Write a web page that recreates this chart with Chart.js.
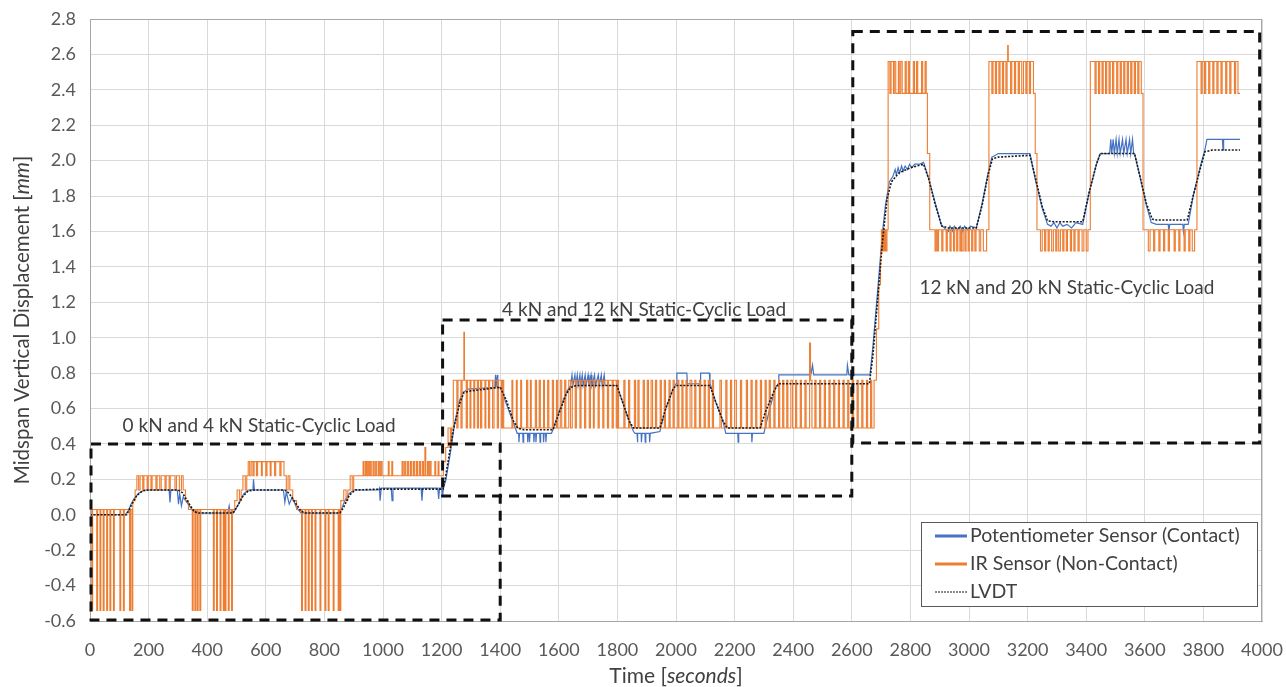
<!DOCTYPE html>
<html>
<head>
<meta charset="utf-8">
<script src="https://cdn.jsdelivr.net/npm/chart.js@4.4.1/dist/chart.umd.min.js"></script>
<style>
  html, body { margin: 0; padding: 0; background: #fff; }
  #wrap { width: 1286px; height: 687px; }
</style>
</head>
<body>
<div id="wrap"><canvas id="chart" width="1286" height="687"></canvas></div>
<script>
// axis ranges (seconds / mm)
const timeMin = 0, timeMax = 4000, timeStep = 200;
const dispMin = -0.6, dispMax = 2.8, dispStep = 0.2;

const seriesNames = ["Potentiometer Sensor (Contact)", "IR Sensor (Non-Contact)", "LVDT"];

// LVDT reference readings [time, displacement]
const lvdt = [
  [0,0.0],[125,0.0],[140,0.05],[160,0.11],[180,0.135],[200,0.14],[300,0.14],[315,0.125],[335,0.07],[355,0.02],[370,0.01],
  [488,0.01],[500,0.04],[520,0.10],[540,0.135],[560,0.14],[665,0.14],[680,0.12],[700,0.07],[720,0.02],[735,0.01],
  [853,0.01],[865,0.04],[885,0.11],[905,0.14],[1000,0.145],[1205,0.145],[1212,0.2],[1240,0.48],[1262,0.63],[1276,0.69],
  [1300,0.70],[1400,0.72],[1420,0.65],[1445,0.53],[1460,0.49],[1480,0.48],[1580,0.48],[1600,0.57],[1625,0.68],[1640,0.72],
  [1660,0.73],[1798,0.73],[1815,0.65],[1840,0.53],[1855,0.49],[1945,0.49],[1965,0.6],[1990,0.71],[2000,0.73],[2116,0.73],
  [2135,0.64],[2160,0.53],[2175,0.49],[2287,0.49],[2305,0.58],[2335,0.70],[2350,0.74],[2660,0.74],[2672,0.9],[2690,1.25],
  [2705,1.55],[2720,1.78],[2735,1.88],[2760,1.93],[2800,1.96],[2845,1.98],[2862,1.9],[2885,1.75],[2907,1.63],[2930,1.62],
  [3025,1.62],[3045,1.75],[3065,1.92],[3080,2.01],[3100,2.02],[3208,2.03],[3230,1.88],[3250,1.74],[3268,1.66],[3290,1.655],
  [3388,1.655],[3410,1.82],[3435,1.98],[3448,2.04],[3565,2.04],[3585,1.9],[3605,1.76],[3625,1.67],[3640,1.665],[3745,1.665],
  [3765,1.8],[3790,1.96],[3805,2.05],[3830,2.06],[3925,2.06]
];

// potentiometer readings [time, displacement]
const potentiometer = [
  [0,0.0],[120,0.0],[130,0.02],[140,0.06],[150,0.09],[165,0.12],[185,0.14],[270,0.14],[273,0.07],[276,0.14],[298,0.14],
  [302,0.06],[306,0.12],[312,0.05],[318,0.1],[335,0.06],[352,0.02],[365,0.01],[470,0.01],[475,0.05],[478,0.01],[490,0.01],
  [500,0.04],[510,0.07],[525,0.12],[540,0.14],[556,0.14],[558,0.2],[561,0.14],[660,0.14],[665,0.07],[670,0.13],[680,0.06],
  [690,0.1],[705,0.04],[720,0.01],[850,0.01],[860,0.04],[870,0.08],[885,0.12],[900,0.14],[985,0.14],[988,0.15],[990,0.08],
  [994,0.15],[1028,0.15],[1031,0.08],[1034,0.15],[1130,0.15],[1133,0.08],[1136,0.15],[1187,0.15],[1190,0.09],[1193,0.15],
  [1200,0.15],[1203,0.10],[1206,0.15],[1215,0.2],[1230,0.35],[1245,0.52],[1260,0.64],[1272,0.69],[1290,0.71],[1382,0.72],
  [1384,0.79],[1386,0.72],[1390,0.79],[1392,0.72],[1402,0.72],[1420,0.63],[1445,0.52],[1458,0.46],[1463,0.46],[1464,0.41],
  [1466,0.46],[1477,0.46],[1478,0.41],[1480,0.46],[1493,0.46],[1494,0.41],[1496,0.46],[1499,0.46],[1500,0.41],[1502,0.46],
  [1514,0.46],[1515,0.41],[1517,0.46],[1521,0.46],[1522,0.41],[1524,0.46],[1535,0.46],[1536,0.41],[1538,0.46],[1547,0.46],
  [1548,0.41],[1550,0.46],[1555,0.46],[1556,0.41],[1558,0.46],[1575,0.46],[1580,0.48],[1600,0.58],[1625,0.69],[1640,0.73],
  [1645,0.79],[1648,0.73],[1655,0.79],[1658,0.73],[1663,0.79],[1666,0.73],[1672,0.79],[1675,0.73],[1680,0.79],[1683,0.73],
  [1690,0.79],[1693,0.73],[1700,0.79],[1703,0.73],[1710,0.79],[1713,0.73],[1722,0.79],[1725,0.73],[1735,0.79],[1738,0.73],
  [1745,0.79],[1748,0.73],[1755,0.79],[1758,0.73],[1798,0.73],[1815,0.65],[1840,0.53],[1855,0.47],[1860,0.46],[1867,0.46],
  [1868,0.41],[1870,0.46],[1881,0.46],[1882,0.41],[1884,0.46],[1894,0.46],[1895,0.41],[1897,0.46],[1909,0.46],[1910,0.41],
  [1912,0.46],[1945,0.47],[1965,0.6],[1990,0.71],[2000,0.74],[2003,0.80],[2037,0.80],[2039,0.74],[2082,0.74],[2084,0.80],
  [2114,0.80],[2116,0.74],[2135,0.64],[2160,0.53],[2170,0.46],[2211,0.46],[2212,0.41],[2214,0.46],[2258,0.46],[2259,0.41],
  [2261,0.46],[2300,0.46],[2304,0.49],[2320,0.6],[2340,0.72],[2349,0.74],[2351,0.79],[2454,0.79],[2456,0.845],[2460,0.79],
  [2466,0.845],[2470,0.79],[2583,0.79],[2585,0.845],[2590,0.79],[2662,0.79],[2672,0.95],[2690,1.3],[2705,1.6],[2715,1.75],
  [2728,1.88],[2740,1.91],[2748,1.95],[2752,1.92],[2758,1.96],[2763,1.93],[2770,1.97],[2775,1.94],[2782,1.97],[2790,1.95],
  [2797,1.98],[2805,1.96],[2815,1.98],[2830,1.98],[2845,1.99],[2862,1.9],[2885,1.76],[2905,1.64],[2915,1.62],[2930,1.6],
  [2935,1.63],[2945,1.6],[2950,1.63],[2960,1.61],[2970,1.63],[2978,1.6],[2985,1.63],[2995,1.61],[3005,1.63],[3025,1.62],
  [3045,1.76],[3065,1.93],[3078,2.02],[3090,2.03],[3100,2.04],[3208,2.04],[3228,1.88],[3250,1.73],[3268,1.64],[3280,1.63],
  [3290,1.65],[3300,1.62],[3310,1.65],[3320,1.63],[3335,1.64],[3350,1.62],[3365,1.65],[3388,1.64],[3410,1.82],[3435,1.98],
  [3448,2.04],[3480,2.04],[3484,2.12],[3487,2.04],[3492,2.12],[3496,2.04],[3502,2.12],[3506,2.04],[3512,2.12],[3516,2.04],
  [3524,2.12],[3528,2.04],[3536,2.12],[3540,2.04],[3548,2.12],[3552,2.04],[3558,2.12],[3562,2.04],[3565,2.04],[3585,1.9],
  [3605,1.75],[3622,1.65],[3640,1.64],[3680,1.64],[3682,1.6],[3685,1.64],[3730,1.64],[3732,1.6],[3735,1.64],[3748,1.64],
  [3765,1.8],[3790,1.97],[3805,2.06],[3812,2.12],[3865,2.12],[3867,2.06],[3869,2.12],[3925,2.12]
];

// IR sensor readings [time, displacement], quantised, each value held until the next time
const irSensor = [
  [0,0.03],[6,-0.54],[9,0.03],[23,-0.54],[26,0.03],[34,-0.54],[37,0.03],[45,-0.54],[48,0.03],[57,-0.54],[60,0.03],
  [68,-0.54],[71,0.03],[80,-0.54],[83,0.03],[102,-0.54],[105,0.03],[114,-0.54],[117,0.03],[135,-0.54],[138,0.03],
  [143,-0.54],[146,0.08],[154,0.14],[160,0.22],[166,0.14],[171,0.22],[180,0.14],[184,0.22],[195,0.14],[199,0.22],
  [208,0.14],[212,0.22],[225,0.14],[229,0.22],[238,0.14],[243,0.22],[256,0.14],[260,0.22],[270,0.14],[274,0.22],
  [290,0.14],[295,0.22],[305,0.14],[312,0.22],[318,0.14],[326,0.08],[336,0.03],[349,-0.54],[352,0.03],[358,-0.54],
  [361,0.03],[366,-0.54],[369,0.03],[375,-0.54],[378,0.03],[421,-0.54],[424,0.03],[432,-0.54],[435,0.03],[444,-0.54],
  [447,0.03],[455,-0.54],[458,0.03],[461,-0.54],[464,0.03],[472,-0.54],[475,0.03],[483,-0.54],[486,0.03],[494,0.08],
  [502,0.14],[510,0.08],[516,0.14],[522,0.22],[530,0.14],[535,0.22],[540,0.30],[545,0.22],[550,0.30],[556,0.22],
  [560,0.30],[568,0.22],[572,0.30],[585,0.22],[588,0.30],[600,0.22],[604,0.30],[615,0.22],[618,0.30],[630,0.22],
  [634,0.30],[648,0.22],[652,0.30],[662,0.22],[670,0.14],[676,0.22],[682,0.14],[692,0.08],[705,0.03],[722,-0.54],
  [725,0.03],[734,-0.54],[737,0.03],[745,-0.54],[748,0.03],[756,-0.54],[759,0.03],[768,-0.54],[771,0.03],[785,-0.54],
  [788,0.03],[802,-0.54],[805,0.03],[813,-0.54],[816,0.03],[830,-0.54],[833,0.03],[847,-0.54],[850,0.03],[853,-0.54],
  [856,0.08],[866,0.14],[874,0.08],[880,0.14],[888,0.22],[895,0.14],[900,0.22],[932,0.30],[935,0.22],[940,0.30],
  [944,0.22],[948,0.30],[952,0.22],[956,0.30],[960,0.22],[966,0.30],[970,0.22],[975,0.30],[979,0.22],[985,0.30],
  [989,0.22],[993,0.30],[997,0.22],[1018,0.30],[1021,0.22],[1030,0.30],[1033,0.22],[1065,0.30],[1069,0.22],[1074,0.30],
  [1078,0.22],[1084,0.30],[1088,0.22],[1094,0.30],[1098,0.22],[1104,0.30],[1108,0.22],[1114,0.30],[1118,0.22],[1124,0.30],
  [1128,0.22],[1134,0.30],[1138,0.22],[1143,0.38],[1146,0.22],[1152,0.30],[1156,0.22],[1160,0.30],[1164,0.22],[1177,0.30],
  [1180,0.22],[1188,0.30],[1191,0.22],[1206,0.30],[1214,0.38],[1222,0.49],[1230,0.38],[1234,0.49],
  [1240,0.76],[1252,0.49],[1256,0.76],[1266,0.49],[1270,0.76],[1276,1.03],[1278,0.76],[1284,0.49],[1288,0.76],[1297,0.49],
  [1300,0.76],[1310,0.49],[1313,0.76],[1322,0.49],[1326,0.76],[1333,0.49],[1337,0.76],[1348,0.49],[1351,0.76],[1360,0.49],
  [1364,0.76],[1374,0.49],[1379,0.76],[1390,0.49],[1394,0.76],[1404,0.49],[1408,0.76],[1412,0.49],[1440,0.76],[1443,0.49],
  [1455,0.76],[1458,0.49],[1470,0.76],[1473,0.49],[1490,0.76],[1494,0.49],[1503,0.76],[1506,0.49],[1520,0.76],[1524,0.49],
  [1533,0.76],[1537,0.49],[1548,0.76],[1551,0.49],[1562,0.76],[1566,0.49],[1578,0.76],[1582,0.49],[1592,0.76],[1596,0.49],
  [1605,0.76],[1610,0.49],[1620,0.76],[1624,0.49],[1634,0.76],[1640,0.49],[1646,0.76],[1656,0.49],[1660,0.76],[1672,0.49],
  [1676,0.76],[1688,0.49],[1692,0.76],[1704,0.49],[1708,0.76],[1718,0.49],[1721,0.76],[1734,0.49],[1738,0.76],[1750,0.49],
  [1754,0.76],[1766,0.49],[1770,0.76],[1782,0.49],[1786,0.76],[1796,0.49],[1800,0.76],[1804,0.49],[1822,0.76],[1826,0.49],
  [1838,0.76],[1842,0.49],[1858,0.76],[1862,0.49],[1870,0.76],[1874,0.49],[1888,0.76],[1892,0.49],[1902,0.76],[1906,0.49],
  [1915,0.76],[1920,0.49],[1930,0.76],[1934,0.49],[1946,0.76],[1950,0.49],[1960,0.76],[1964,0.49],[1976,0.76],[1980,0.49],
  [1990,0.76],[1994,0.49],[2006,0.76],[2010,0.49],[2020,0.76],[2024,0.49],[2034,0.76],[2038,0.49],[2048,0.76],[2054,0.49],
  [2064,0.76],[2068,0.49],[2080,0.76],[2084,0.49],[2096,0.76],[2100,0.49],[2110,0.76],[2114,0.49],[2124,0.76],[2128,0.49],
  [2150,0.76],[2155,0.49],[2170,0.76],[2174,0.49],[2186,0.76],[2190,0.49],[2200,0.76],[2206,0.49],[2220,0.76],[2224,0.49],
  [2240,0.76],[2244,0.49],[2256,0.76],[2260,0.49],[2272,0.76],[2276,0.49],[2288,0.76],[2292,0.49],[2304,0.76],[2308,0.49],
  [2318,0.76],[2322,0.49],[2334,0.76],[2338,0.49],[2350,0.76],[2354,0.49],[2364,0.76],[2368,0.49],[2378,0.76],[2382,0.49],
  [2392,0.76],[2398,0.49],[2408,0.76],[2412,0.49],[2424,0.76],[2428,0.49],[2440,0.76],[2444,0.49],[2456,0.97],[2459,0.76],
  [2464,0.49],[2474,0.76],[2478,0.49],[2490,0.76],[2494,0.49],[2506,0.76],[2510,0.49],[2522,0.76],[2526,0.49],[2538,0.76],
  [2542,0.49],[2554,0.76],[2558,0.49],[2570,0.76],[2574,0.49],[2586,0.76],[2590,0.49],[2602,0.76],[2606,0.49],[2618,0.76],
  [2622,0.49],[2634,0.76],[2638,0.49],[2650,0.76],[2654,0.49],[2664,0.76],[2668,0.49],[2676,0.76],[2684,1.05],[2692,1.30],
  [2698,1.49],[2701,1.61],[2704,1.49],[2707,1.61],[2710,1.49],[2713,1.61],[2716,1.49],[2720,1.61],[2724,2.56],[2730,2.38],
  [2734,2.56],[2742,2.38],[2745,2.56],[2750,2.38],[2759,2.56],[2762,2.38],[2767,2.56],[2772,2.38],[2782,2.56],[2786,2.38],
  [2793,2.56],[2797,2.38],[2810,2.56],[2814,2.38],[2821,2.56],[2825,2.38],[2838,2.56],[2842,2.38],[2850,2.56],[2854,2.38],
  [2858,2.04],[2866,1.61],[2884,1.49],[2888,1.61],[2892,1.49],[2896,1.61],[2907,1.49],[2911,1.61],[2922,1.49],[2926,1.61],
  [2935,1.49],[2939,1.61],[2947,1.49],[2951,1.61],[2958,1.49],[2962,1.61],[2969,1.49],[2973,1.61],[2975,1.49],[2980,1.61],
  [2986,1.49],[2990,1.61],[2997,1.49],[3001,1.61],[3009,1.49],[3013,1.61],[3020,1.49],[3024,1.61],[3035,1.49],[3040,1.61],
  [3049,1.49],[3060,1.61],[3068,2.56],[3078,2.38],[3082,2.56],[3090,2.38],[3094,2.56],[3102,2.38],[3106,2.56],[3114,2.38],
  [3118,2.56],[3126,2.38],[3130,2.56],[3132,2.65],[3134,2.56],[3142,2.38],[3146,2.56],[3155,2.38],[3159,2.56],[3168,2.38],
  [3172,2.56],[3180,2.38],[3186,2.56],[3194,2.38],[3198,2.56],[3206,2.38],[3210,2.56],[3220,2.38],[3226,2.04],[3232,1.61],
  [3244,1.49],[3250,1.61],[3258,1.49],[3262,1.61],[3270,1.49],[3274,1.61],[3282,1.49],[3288,1.61],[3296,1.49],[3300,1.61],
  [3306,1.49],[3312,1.61],[3320,1.49],[3324,1.61],[3332,1.49],[3336,1.61],[3346,1.49],[3350,1.61],[3358,1.49],[3362,1.61],
  [3372,1.49],[3376,1.61],[3386,1.49],[3392,1.61],[3400,1.49],[3406,1.61],[3414,2.56],[3430,2.38],[3434,2.56],[3442,2.38],
  [3446,2.56],[3454,2.38],[3458,2.56],[3466,2.38],[3470,2.56],[3478,2.38],[3482,2.56],[3490,2.38],[3494,2.56],[3504,2.38],
  [3508,2.56],[3516,2.38],[3520,2.56],[3528,2.38],[3532,2.56],[3540,2.38],[3544,2.56],[3552,2.38],[3556,2.56],[3564,2.38],
  [3568,2.56],[3576,2.38],[3580,2.56],[3588,2.38],[3594,1.61],[3612,1.49],[3618,1.61],[3630,1.49],[3634,1.61],[3648,1.49],
  [3652,1.61],[3664,1.49],[3668,1.61],[3680,1.49],[3684,1.61],[3700,1.49],[3704,1.61],[3716,1.49],[3720,1.61],[3734,1.49],
  [3738,1.61],[3750,1.49],[3754,1.61],[3762,1.49],[3770,1.61],[3778,2.56],[3792,2.38],[3796,2.56],[3804,2.38],[3808,2.56],
  [3818,2.38],[3822,2.56],[3832,2.38],[3836,2.56],[3846,2.38],[3850,2.56],[3860,2.38],[3864,2.56],[3876,2.38],[3880,2.56],
  [3890,2.38],[3894,2.56],[3906,2.38],[3910,2.56],[3918,2.38],[3925,2.38]
];

// dashed load-stage boxes, in data units: [t0, t1, d0, d1]
const stageBoxes = [
  [0, 1400, -0.6, 0.4],
  [1200, 2600, 0.1, 1.1],
  [2600, 3992, 0.4, 2.73]
];
const stageLabels = ["0 kN and 4 kN Static-Cyclic Load", "4 kN and 12 kN Static-Cyclic Load", "12 kN and 20 kN Static-Cyclic Load"];
const stageLabelAt = [[577, 0.50], [1891, 1.16], [3334, 1.28]];

const FONT = "Lato, 'Open Sans', sans-serif";
const TEXT = "#404040";

function drawParts(ctx, parts, size, cx, cy) {
  let total = 0;
  parts.forEach(p => {
    ctx.font = (p[1] ? "italic " : "") + size + "px " + FONT;
    total += ctx.measureText(p[0]).width;
  });
  let x = cx - total / 2;
  parts.forEach(p => {
    ctx.font = (p[1] ? "italic " : "") + size + "px " + FONT;
    ctx.fillText(p[0], x, cy);
    x += ctx.measureText(p[0]).width;
  });
}

const extras = {
  id: "extras",
  afterDatasetsDraw(chart) {
    const { ctx, chartArea: a, scales: { x, y } } = chart;
    ctx.save();
    // plot frame
    ctx.strokeStyle = "#a6a6a6";
    ctx.lineWidth = 1;
    ctx.strokeRect(a.left + 0.5, a.top + 0.5, a.right - a.left - 1, a.bottom - a.top);

    // stage boxes
    ctx.strokeStyle = "#111";
    ctx.lineWidth = 3;
    ctx.setLineDash([10, 7]);
    stageBoxes.forEach(b => {
      const x0 = x.getPixelForValue(b[0]), x1 = x.getPixelForValue(b[1]);
      const y0 = y.getPixelForValue(b[2]), y1 = y.getPixelForValue(b[3]);
      ctx.strokeRect(x0 + 1, y1, x1 - x0 - 1, y0 - y1 - 1);
    });
    ctx.setLineDash([]);

    // stage labels
    ctx.fillStyle = TEXT;
    ctx.font = "19px " + FONT;
    ctx.textAlign = "center";
    ctx.textBaseline = "middle";
    stageLabels.forEach((t, i) => {
      ctx.fillText(t, x.getPixelForValue(stageLabelAt[i][0]), y.getPixelForValue(stageLabelAt[i][1]));
    });

    // legend box inside the plot
    const lw = 336, lh = 84;
    const lx = a.right - 5 - lw, ly = a.bottom - 15 - lh;
    ctx.fillStyle = "#fff";
    ctx.fillRect(lx, ly, lw, lh);
    ctx.strokeStyle = "#595959";
    ctx.lineWidth = 1;
    ctx.strokeRect(lx + 0.5, ly + 0.5, lw, lh);
    ctx.textAlign = "left";
    ctx.font = "19.5px " + FONT;
    chart.data.datasets.forEach((ds, i) => {
      const ry = ly + 14 + i * 28;
      ctx.strokeStyle = ds.borderColor;
      ctx.lineWidth = i < 2 ? 3 : 1;
      ctx.setLineDash(i < 2 ? [] : [2, 1]);
      ctx.beginPath();
      ctx.moveTo(lx + 14, ry);
      ctx.lineTo(lx + 46, ry);
      ctx.stroke();
      ctx.setLineDash([]);
      ctx.fillStyle = TEXT;
      ctx.fillText(ds.label, lx + 49, ry);
    });

    // axis titles with italic units
    ctx.fillStyle = TEXT;
    ctx.textAlign = "left";
    drawParts(ctx, [["Time [", false], ["seconds", true], ["]", false]], 21, (a.left + a.right) / 2, 676);
    ctx.translate(22, (a.top + a.bottom) / 2);
    ctx.rotate(-Math.PI / 2);
    drawParts(ctx, [["Midspan Vertical Displacement [", false], ["mm", true], ["]", false]], 20.5, 0, 0);
    ctx.restore();
  }
};

new Chart(document.getElementById("chart").getContext("2d"), {
  type: "line",
  data: {
    datasets: [
      {
        label: seriesNames[0],
        data: potentiometer,
        borderColor: "#4472C4",
        borderWidth: 1.2,
        pointRadius: 0,
        order: 2
      },
      {
        label: seriesNames[1],
        data: irSensor,
        borderColor: "#ED7D31",
        borderWidth: 1.1,
        pointRadius: 0,
        stepped: true,
        order: 1
      },
      {
        label: seriesNames[2],
        data: lvdt,
        borderColor: "#1a1a1a",
        borderWidth: 1.6,
        borderDash: [2, 1.5],
        pointRadius: 0,
        order: 0
      }
    ]
  },
  options: {
    responsive: false,
    animation: false,
    devicePixelRatio: 1,
    layout: { padding: { left: 0, right: 24, top: 19, bottom: 0 } },
    plugins: {
      legend: { display: false },
      tooltip: { enabled: false },
      title: { display: false }
    },
    scales: {
      x: {
        type: "linear",
        min: timeMin,
        max: timeMax,
        ticks: {
          stepSize: timeStep,
          color: "#595959",
          font: { family: FONT, size: 18 },
          padding: 18,
          maxRotation: 0,
          callback: v => String(v)
        },
        grid: { color: "#d9d9d9", drawTicks: false },
        border: { color: "#a6a6a6" },
        afterFit: s => { s.height = 66; s.paddingLeft = 0; s.paddingRight = 0; }
      },
      y: {
        min: dispMin,
        max: dispMax,
        ticks: {
          stepSize: dispStep,
          color: "#595959",
          font: { family: FONT, size: 18 },
          padding: 14,
          callback: v => (Math.abs(v) < 1e-9 ? 0 : v).toFixed(1)
        },
        grid: { color: "#d9d9d9", drawTicks: false },
        border: { color: "#a6a6a6" },
        afterFit: s => { s.width = 90; s.paddingTop = 0; s.paddingBottom = 0; }
      }
    }
  },
  plugins: [extras]
});
</script>
</body>
</html>
